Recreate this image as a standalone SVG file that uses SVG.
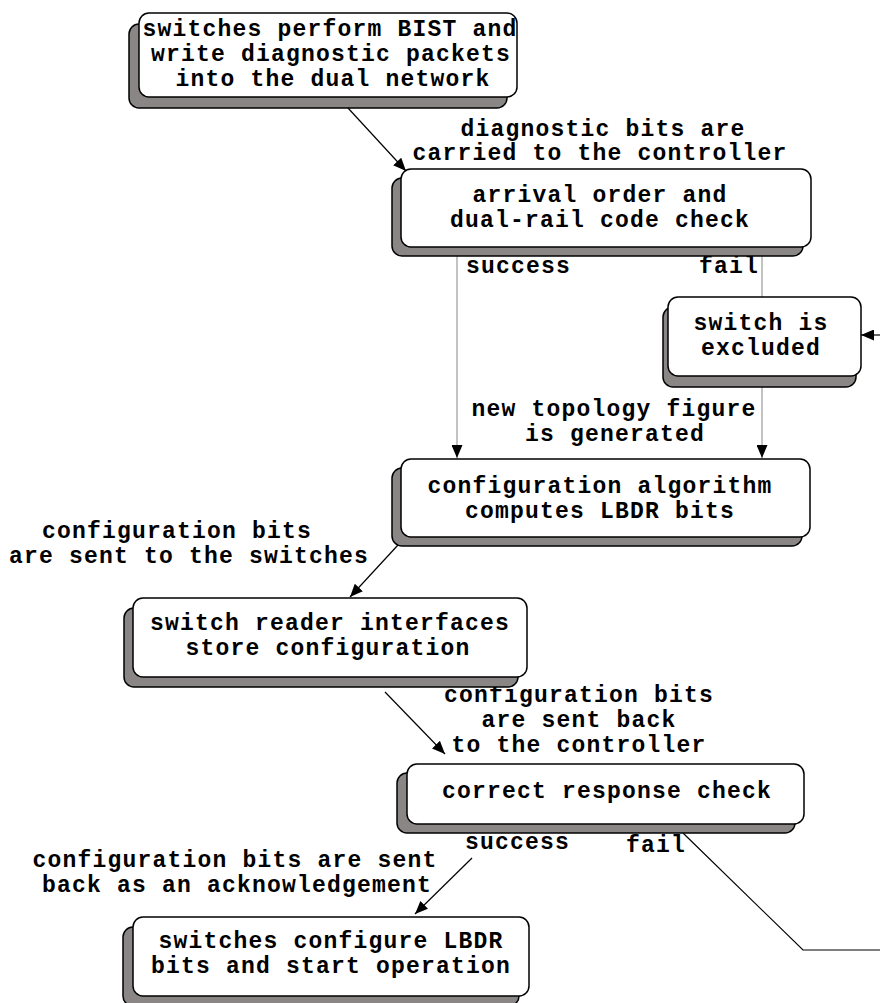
<svg xmlns="http://www.w3.org/2000/svg" width="880" height="1003" viewBox="0 0 880 1003">
  <style>
    .shadow { fill: #8a8686; stroke: #000; stroke-width: 1.5; }
    .box { fill: #fff; stroke: #000; stroke-width: 1.5; }
    text { font-family: "Liberation Mono", "Courier New", monospace; font-weight: bold; font-size: 23px; letter-spacing: 1.2px; fill: #000; }
    .c { text-anchor: middle; }
    .edge { fill: none; stroke: #000; stroke-width: 1.2; }
    .branch { fill: none; stroke: #9a9a9a; stroke-width: 1.2; }
  </style>
  <defs>
    <marker id="arrow" viewBox="0 0 13 11" refX="13" refY="5.5" markerWidth="13" markerHeight="11" markerUnits="userSpaceOnUse" orient="auto">
      <path d="M0,0 L13,5.5 L0,11 z" fill="#000"/>
    </marker>
  </defs>

  <!-- connectors -->
  <g id="connectors">
    <line class="edge" x1="348" y1="108" x2="406" y2="171" marker-end="url(#arrow)"/>
    <line class="branch" x1="457" y1="256" x2="457" y2="458" marker-end="url(#arrow)"/>
    <line class="branch" x1="762" y1="256" x2="762" y2="297"/>
    <line class="branch" x1="762" y1="387" x2="762" y2="458" marker-end="url(#arrow)"/>
    <line class="edge" x1="880" y1="335" x2="861" y2="335" marker-end="url(#arrow)"/>
    <line class="edge" x1="398" y1="545" x2="350" y2="597" marker-end="url(#arrow)"/>
    <line class="edge" x1="385" y1="692" x2="445" y2="754" marker-end="url(#arrow)"/>
    <line class="edge" x1="472" y1="858" x2="415" y2="914" marker-end="url(#arrow)"/>
    <polyline class="edge" points="683,833 803,950 880,950"/>

    <g id="edge-labels">
      <text class="c" x="603" y="136">diagnostic bits are</text>
      <text class="c" x="600" y="160">carried to the controller</text>
      <text x="466" y="273">success</text>
      <text x="699" y="273">fail</text>
      <text class="c" x="614" y="416">new topology figure</text>
      <text class="c" x="615" y="441">is generated</text>
      <text class="c" x="177" y="538">configuration bits</text>
      <text class="c" x="189" y="563">are sent to the switches</text>
      <text class="c" x="579" y="702">configuration bits</text>
      <text class="c" x="579" y="727">are sent back</text>
      <text class="c" x="579" y="752">to the controller</text>
      <text x="465" y="849">success</text>
      <text x="626" y="852">fail</text>
      <text class="c" x="235" y="867">configuration bits are sent</text>
      <text class="c" x="237" y="892">back as an acknowledgement</text>
    </g>
  </g>

  <!-- nodes -->
  <g id="node-bist">
    <rect class="shadow" x="129" y="24" width="378" height="84" rx="10"/>
    <rect class="box" x="139" y="13" width="378" height="84" rx="10"/>
    <text class="c" x="330" y="36">switches perform BIST and</text>
    <text class="c" x="331" y="61">write diagnostic packets</text>
    <text class="c" x="333" y="86">into the dual network</text>
  </g>

  <g id="node-check">
    <rect class="shadow" x="392" y="178" width="411" height="78" rx="10"/>
    <rect class="box" x="401" y="169" width="410" height="78" rx="10"/>
    <text class="c" x="600" y="202">arrival order and</text>
    <text class="c" x="600" y="227">dual-rail code check</text>
  </g>

  <g id="node-excluded">
    <rect class="shadow" x="663" y="307" width="193" height="80" rx="10"/>
    <rect class="box" x="668" y="297" width="193" height="79" rx="10"/>
    <text class="c" x="761" y="330">switch is</text>
    <text class="c" x="761" y="355">excluded</text>
  </g>

  <g id="node-algorithm">
    <rect class="shadow" x="392" y="468" width="410" height="78" rx="10"/>
    <rect class="box" x="401" y="459" width="409" height="78" rx="10"/>
    <text class="c" x="600" y="493">configuration algorithm</text>
    <text class="c" x="600" y="518">computes LBDR bits</text>
  </g>

  <g id="node-reader">
    <rect class="shadow" x="124" y="608" width="394" height="79" rx="10"/>
    <rect class="box" x="133" y="598" width="394" height="79" rx="10"/>
    <text class="c" x="330" y="630">switch reader interfaces</text>
    <text class="c" x="328" y="655">store configuration</text>
  </g>

  <g id="node-response">
    <rect class="shadow" x="397" y="773" width="398" height="60" rx="10"/>
    <rect class="box" x="407" y="764" width="397" height="60" rx="10"/>
    <text class="c" x="607" y="798">correct response check</text>
  </g>

  <g id="node-configure">
    <rect class="shadow" x="123" y="927" width="396" height="79" rx="10"/>
    <rect class="box" x="133" y="917" width="396" height="79" rx="10"/>
    <text class="c" x="331" y="948">switches configure LBDR</text>
    <text class="c" x="331" y="973">bits and start operation</text>
  </g>
</svg>
